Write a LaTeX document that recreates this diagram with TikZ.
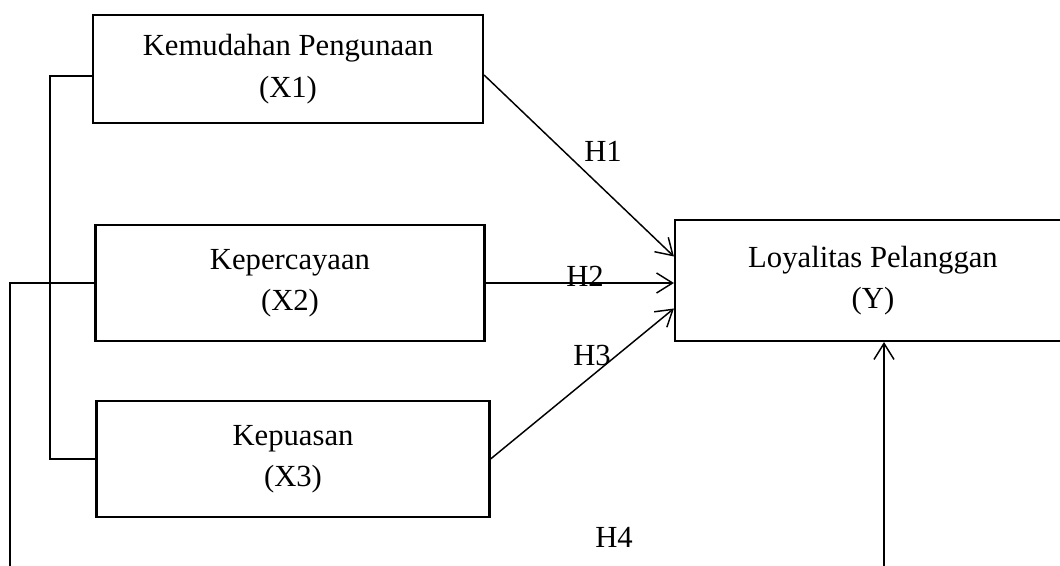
\documentclass[tikz,border=0pt]{standalone}
\usepackage{fontspec}
\setmainfont{Liberation Serif}
\usetikzlibrary{arrows.meta,calc}
\definecolor{rmink}{HTML}{000000}
\tikzset{
  rmvar/.style={draw=rmink, line width=1.6pt, fill=white, align=center,
                inner sep=0pt, font=\fontsize{23}{31}\selectfont},
  rmedge/.style={-{Straight Barb[length=12pt,width=15pt,line width=1.1pt]},
                 draw=rmink, line width=1.1pt},
  rmline/.style={draw=rmink, line width=1.5pt},
  rmlabel/.style={font=\fontsize{23}{28}\selectfont, inner sep=0pt},
}

\begin{document}
\begin{tikzpicture}[x=0.75pt,y=-0.75pt]
  \useasboundingbox (0,0) rectangle (1060,566);
  \node[rmvar, minimum width=292.5pt, minimum height=81pt] (x1) at (288,69)
       {Kemudahan Pengunaan\\(X1)};
  \node[rmvar, minimum width=291.75pt, minimum height=87pt] (x2) at (290,283)
       {Kepercayaan\\(X2)};
  \node[rmvar, minimum width=294.75pt, minimum height=87pt] (x3) at (293,459)
       {Kepuasan\\(X3)};
  \node[rmvar, minimum width=297pt, minimum height=90.75pt] (loyal) at (873,280.5)
       {Loyalitas Pelanggan\\(Y)};
  \coordinate (bl) at (10,566);
  \coordinate (br) at (884,566);
  \draw[rmedge] ($(x1.east)+(0,6)$) -- ($(loyal.west)+(0,-24)$);
  \draw[rmedge] (x2.east) -- (x2.east -| loyal.west);
  \draw[rmedge] (x3.east) -- ($(loyal.west)+(0,28)$);
  \draw[rmedge] (br) -- (br |- loyal.south);
  \draw[rmline] ($(x1.west)+(0,7)$) -- ++(-42,0) |- (x3.west);
  \draw[rmline] (x2.west) -| (bl);
  \node[rmlabel] (h1) at (603,151) {H1};
  \node[rmlabel] (h2) at (585,276) {H2};
  \node[rmlabel] (h3) at (592,355) {H3};
  \node[rmlabel] (h4) at (614,537) {H4};
\end{tikzpicture}
\end{document}
